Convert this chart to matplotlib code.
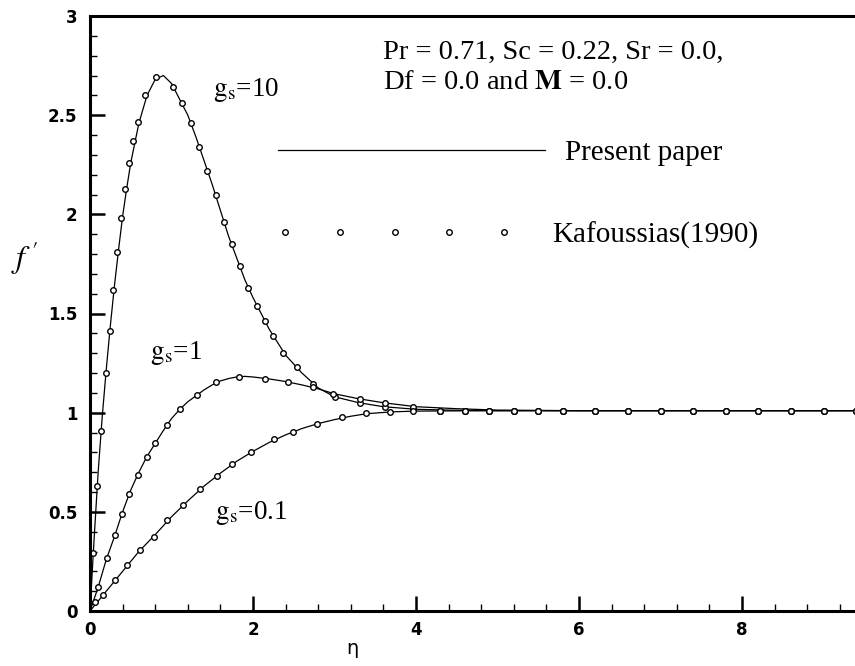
import matplotlib
matplotlib.use("Agg")
import matplotlib.pyplot as plt
from matplotlib.lines import Line2D
from matplotlib.ticker import MultipleLocator

plt.rcParams["mathtext.fontset"] = "stix"

# ---- Present paper: velocity profiles f'(eta) ----
eta_10 = [0.0, 0.05, 0.10, 0.15, 0.20, 0.25, 0.30, 0.35, 0.40, 0.45, 0.50, 0.60,
          0.70, 0.80, 0.90, 1.00, 1.10, 1.20, 1.30, 1.40, 1.50, 1.60, 1.70, 1.80,
          1.90, 2.00, 2.20, 2.40, 2.60, 2.80, 3.00, 3.30, 3.60, 4.00, 4.50, 5.00,
          6.00, 7.00, 8.00, 9.00, 10.0]
fp_10 = [0.0, 0.36, 0.70, 0.98, 1.22, 1.44, 1.64, 1.82, 1.99, 2.13, 2.26, 2.46,
         2.60, 2.68, 2.70, 2.66, 2.58, 2.50, 2.39, 2.27, 2.15, 2.02, 1.89, 1.78,
         1.67, 1.58, 1.42, 1.29, 1.20, 1.125, 1.08, 1.05, 1.03, 1.017, 1.012, 1.01,
         1.01, 1.01, 1.01, 1.01, 1.01]

eta_1 = [0.0, 0.10, 0.20, 0.30, 0.40, 0.50, 0.60, 0.70, 0.80, 0.90, 1.00, 1.10,
         1.20, 1.30, 1.40, 1.50, 1.60, 1.70, 1.80, 1.90, 2.00, 2.20, 2.40, 2.60,
         2.80, 3.00, 3.30, 3.60, 4.00, 4.50, 5.00, 6.00, 7.00, 8.00, 9.00, 10.0]
fp_1 = [0.0, 0.12, 0.26, 0.375, 0.50, 0.61, 0.70, 0.78, 0.845, 0.91, 0.97, 1.016,
        1.055, 1.085, 1.115, 1.14, 1.16, 1.172, 1.18, 1.183, 1.18, 1.17, 1.157, 1.14,
        1.12, 1.095, 1.07, 1.05, 1.03, 1.02, 1.013, 1.01, 1.01, 1.01, 1.01, 1.01]

eta_01 = [0.0, 0.20, 0.40, 0.60, 0.80, 1.00, 1.20, 1.40, 1.60, 1.80, 2.00, 2.20,
          2.40, 2.60, 2.80, 3.00, 3.20, 3.40, 3.70, 4.00, 5.00, 6.00, 7.00, 8.00,
          9.00, 10.0]
fp_01 = [0.0, 0.10, 0.20, 0.30, 0.385, 0.475, 0.555, 0.63, 0.695, 0.755, 0.805, 0.85,
         0.888, 0.92, 0.945, 0.965, 0.982, 0.995, 1.004, 1.008, 1.01, 1.01, 1.01, 1.01,
         1.01, 1.01]

# ---- Kafoussias (1990): tabulated points ----
tail_eta = [4.3, 4.6, 4.9, 5.2, 5.5, 5.8, 6.2, 6.6, 7.0, 7.4, 7.8, 8.2, 8.6, 9.0, 9.4]
tail_fp = [1.01] * len(tail_eta)

k_eta_10 = [0.04, 0.09, 0.14, 0.20, 0.245, 0.286, 0.335, 0.38, 0.43, 0.48, 0.53,
            0.585, 0.68, 0.81, 1.02, 1.125, 1.24, 1.34, 1.44, 1.54, 1.64, 1.74,
            1.84, 1.94, 2.05, 2.15, 2.24, 2.37, 2.54, 2.74, 3.01, 3.31, 3.62, 3.96] + tail_eta
k_fp_10 = [0.29, 0.63, 0.91, 1.20, 1.41, 1.62, 1.81, 1.98, 2.13, 2.26, 2.37,
           2.465, 2.60, 2.69, 2.64, 2.56, 2.46, 2.34, 2.22, 2.10, 1.96, 1.85,
           1.74, 1.63, 1.54, 1.46, 1.385, 1.30, 1.23, 1.147, 1.08, 1.05, 1.03, 1.017] + tail_fp

k_eta_1 = [0.10, 0.205, 0.31, 0.39, 0.48, 0.585, 0.695, 0.80, 0.94, 1.10, 1.31,
           1.55, 1.83, 2.15, 2.43, 2.74, 2.98, 3.31, 3.62, 3.96] + tail_eta
k_fp_1 = [0.12, 0.265, 0.383, 0.49, 0.59, 0.685, 0.777, 0.845, 0.937, 1.016, 1.088,
          1.155, 1.18, 1.172, 1.155, 1.127, 1.095, 1.068, 1.05, 1.03] + tail_fp

k_eta_01 = [0.06, 0.165, 0.31, 0.45, 0.61, 0.78, 0.94, 1.145, 1.35, 1.555, 1.74,
            1.98, 2.26, 2.49, 2.78, 3.09, 3.39, 3.68, 3.96] + tail_eta
k_fp_01 = [0.047, 0.08, 0.156, 0.23, 0.307, 0.374, 0.458, 0.534, 0.613, 0.68, 0.74,
           0.80, 0.865, 0.903, 0.942, 0.979, 0.996, 1.004, 1.008] + tail_fp

x_ticks = [0, 2, 4, 6, 8]
y_ticks = [0, 0.5, 1, 1.5, 2, 2.5, 3]
y_tick_labels = ["0", "0.5", "1", "1.5", "2", "2.5", "3"]

serif = "Liberation Serif"
sans = "DejaVu Sans"

fig = plt.figure(figsize=(8.55, 6.66), dpi=100)
ax = fig.add_axes([90 / 855, 55 / 666, 815 / 855, 595 / 666])

line_kw = dict(color="black", lw=0.9)
mark_kw = dict(ls="none", marker="o", ms=4.0, mfc="white", mec="black", mew=1.0)

for e, f in [(eta_10, fp_10), (eta_1, fp_1), (eta_01, fp_01)]:
    ax.plot(e, f, **line_kw)
for e, f in [(k_eta_10, k_fp_10), (k_eta_1, k_fp_1), (k_eta_01, k_fp_01)]:
    ax.plot(e, f, **mark_kw)

ax.set_xlim(0, 10)
ax.set_ylim(0, 3)
ax.set_xticks(x_ticks)
ax.set_yticks(y_ticks)
ax.set_yticklabels(y_tick_labels)
ax.xaxis.set_minor_locator(MultipleLocator(0.4))
ax.yaxis.set_minor_locator(MultipleLocator(0.1))

for side in ["left", "bottom", "top"]:
    ax.spines[side].set_linewidth(2.2)
ax.spines["right"].set_visible(False)

ax.tick_params(which="major", direction="in", length=10.5, width=1.8,
               top=False, right=False)
ax.tick_params(which="minor", direction="in", length=5, width=1.0,
               top=False, right=False)
ax.tick_params(axis="y", which="major", pad=9)
ax.tick_params(axis="x", which="major", pad=7)
for lab in ax.get_xticklabels() + ax.get_yticklabels():
    lab.set_fontfamily(sans)
    lab.set_fontsize(12)
    lab.set_fontweight("bold")

ax.set_xlabel("η", fontfamily="DejaVu Sans", fontsize=14)
ax.xaxis.set_label_coords(0.3215, -0.047)
ax.set_ylabel(r"$f\;'$", fontsize=23, rotation=0, va="center", ha="center")
ax.yaxis.set_label_coords(-0.08, 0.593)

# Parameter box
ax.text(0.3595, 0.938, "Pr = 0.71, Sc = 0.22, Sr = 0.0,", transform=ax.transAxes,
        fontfamily=serif, fontsize=20.5, va="center", ha="left")
ax.text(0.3595, 0.889, r"Df = 0.0 and $\mathbf{M}$ = 0.0", transform=ax.transAxes,
        fontfamily=serif, fontsize=20.5, va="center", ha="left")

# Curve labels
lab_kw = dict(transform=ax.transAxes, fontfamily=serif, fontsize=19.5,
              va="center", ha="left")
ax.text(0.151, 0.876, r"$\mathrm{g_s}$=10", **lab_kw)
ax.text(0.0736, 0.4336, r"$\mathrm{g_s}$=1", **lab_kw)
ax.text(0.153, 0.165, r"$\mathrm{g_s}$=0.1", **lab_kw)

# Legend entries
h_line = Line2D([], [], **line_kw)
h_mark = Line2D([], [], **mark_kw)
leg_font = {"family": serif, "size": 21}
leg1 = ax.legend([h_line], ["Present paper"], loc="center left",
                 bbox_to_anchor=(0.2307, 0.7697), frameon=False, prop=leg_font,
                 handlelength=9.15, handletextpad=0.68, borderpad=0, borderaxespad=0)
ax.add_artist(leg1)
ax.legend([h_mark], ["Kafoussias(1990)"], loc="center left",
          bbox_to_anchor=(0.2282, 0.632), frameon=False, prop=leg_font,
          numpoints=5, handlelength=8.13, handletextpad=1.34,
          borderpad=0, borderaxespad=0)

fig.savefig("out.png", dpi=100)
